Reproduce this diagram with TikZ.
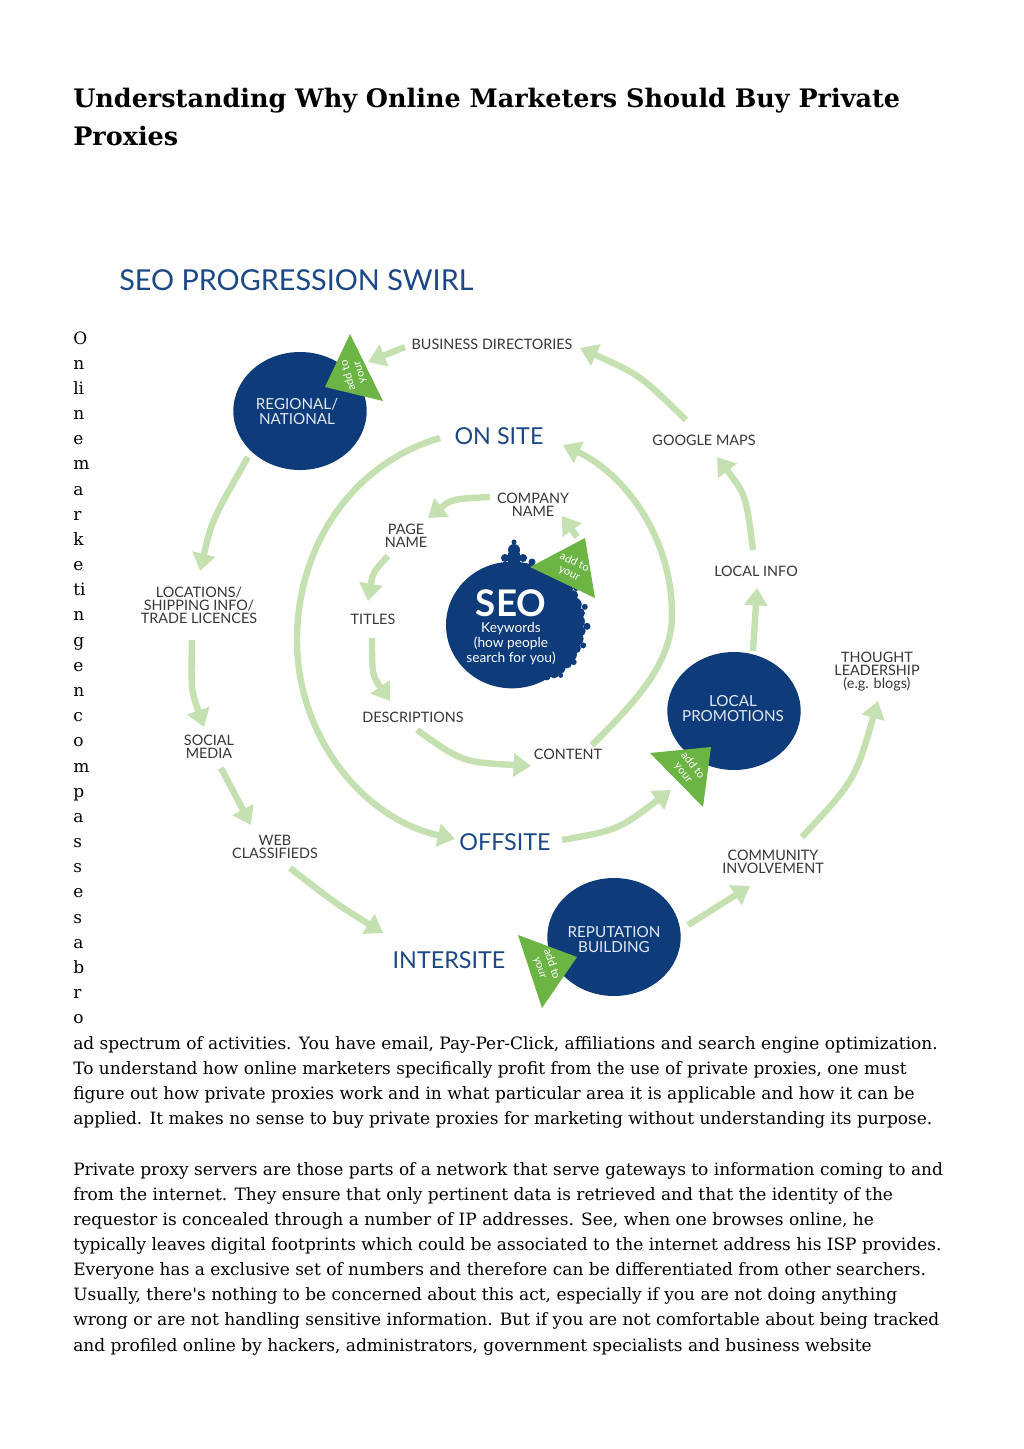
\documentclass[tikz,border=0pt]{standalone}
\usepackage{fontspec}
\setmainfont{DejaVu Serif}
\newfontfamily\labfont{Lato}
\usetikzlibrary{arrows.meta,shapes.geometric}
\definecolor{seoblue}{RGB}{14,60,122}
\definecolor{headblue}{RGB}{28,72,134}
\definecolor{trigreen}{RGB}{108,181,68}
\definecolor{arrgreen}{RGB}{198,225,177}
\definecolor{labgray}{RGB}{55,55,55}
\definecolor{circtext}{RGB}{226,233,243}
\begin{document}
\begin{tikzpicture}[x=0.75pt,y=-0.75pt,
  body/.style={anchor=base west,inner sep=0pt,font=\fontsize{12.75}{15}\selectfont,text=black},
  ttl/.style={anchor=base west,inner sep=0pt,font=\fontsize{19.1}{22}\selectfont\bfseries,text=black},
  lbl/.style={inner sep=0pt,align=center,text=labgray,font=\labfont\fontsize{10.8}{9.8}\selectfont},
  big/.style={inner sep=0pt,text=headblue,font=\labfont\fontsize{17.5}{18}\selectfont},
  circ/.style={ellipse,fill=seoblue,inner sep=0pt,minimum width=100pt,minimum height=88.5pt},
  ctext/.style={inner sep=0pt,align=center,text=circtext,font=\labfont\fontsize{11.4}{11.2}\selectfont},
  tritext/.style={inner sep=0pt,align=center,text=white,font=\labfont\fontsize{8.3}{9}\selectfont},
  arr/.style={draw=arrgreen,line width=4.8pt,-{Triangle[length=13pt,width=17pt]}}]
\useasboundingbox (0,0) rectangle (1024,1449);
\fill[white] (0,0) rectangle (1024,1449);

% ---------- page title ----------
\node[ttl] (h1) at (73,107) {Understanding Why Online Marketers Should Buy Private};
\node[ttl] (h2) at (73,145) {Proxies};

% ---------- vertical letters ----------
\foreach \l [count=\i from 0] in {O,n,li,n,e,m,a,r,k,e,ti,n,g,e,n,c,o,m,p,a,s,s,e,s,a,b,r,o}
  \node[body] (v\i) at (73,{344+25.18*\i}) {\l};

% ---------- body text ----------
\node[body] (b1) at (73,1049) {ad spectrum of activities. You have email, Pay-Per-Click, affiliations and search engine optimization.};
\node[body] (b2) at (73,1074) {To understand how online marketers specifically profit from the use of private proxies, one must};
\node[body] (b3) at (73,1099) {figure out how private proxies work and in what particular area it is applicable and how it can be};
\node[body] (b4) at (73,1124) {applied. It makes no sense to buy private proxies for marketing without understanding its purpose.};
\node[body] (b5) at (73,1175) {Private proxy servers are those parts of a network that serve gateways to information coming to and};
\node[body] (b6) at (73,1200) {from the internet. They ensure that only pertinent data is retrieved and that the identity of the};
\node[body] (b7) at (73,1225) {requestor is concealed through a number of IP addresses. See, when one browses online, he};
\node[body] (b8) at (73,1250) {typically leaves digital footprints which could be associated to the internet address his ISP provides.};
\node[body] (b9) at (73,1275) {Everyone has a exclusive set of numbers and therefore can be differentiated from other searchers.};
\node[body] (b10) at (73,1300) {Usually, there\textquotesingle s nothing to be concerned about this act, especially if you are not doing anything};
\node[body] (b11) at (73,1325) {wrong or are not handling sensitive information. But if you are not comfortable about being tracked};
\node[body] (b12) at (73,1351) {and profiled online by hackers, administrators, government specialists and business website};

% ---------- diagram title ----------
\node[inner sep=0pt,anchor=west,text=headblue,font=\labfont\fontsize{21.6}{22}\selectfont] (swirl) at (119,280) {SEO PROGRESSION SWIRL};

% ---------- circles ----------
\node[circ] (reg) at (300,411) {};
\node[circ] (lp) at (734,711) {};
\node[circ] (rep) at (614,937) {};
\node[circ,minimum width=99pt,minimum height=95pt] (seo) at (512,625) {};
% fractal edge of the SEO circle
\begin{scope}[shift={(512,625)}]
  \fill[seoblue] (-4,-58) rectangle (8,-72);
  \fill[seoblue] (2,-75) circle (6);
  \fill[seoblue] (2,-83) circle (2.5);
  \fill[seoblue] (-7,-67) circle (4);
  \fill[seoblue] (11,-67) circle (4);
  \fill[seoblue] (20,-63) circle (3.5);
  \foreach \a/\d/\r in {-52/64/6,-44/66/5,-34/65/7,-26/68/5,-18/66/7,-10/69/5,-3/66/7,
                        5/69/5,12/66/7,20/68/5,27/65/7,35/67/5,42/64/6,49/64/5,56/62/4}
    \fill[seoblue] (\a:\d) circle (\r);
  \foreach \a/\d/\r in {-30/74/3,-14/75/3,1/75/3.5,16/74/3,31/72/3,46/70/2.5}
    \fill[seoblue] (\a:\d) circle (\r);
\end{scope}

% ---------- green triangles ----------
\fill[trigreen] (350,334) -- (383,401) -- (325,387) -- cycle;
\fill[trigreen] (530,567) -- (585,538) -- (595,598) -- cycle;
\fill[trigreen] (650,753) -- (711,747) -- (703,807) -- cycle;
\fill[trigreen] (518,935) -- (577,957) -- (542,1008) -- cycle;
\node[tritext,rotate=106] (tr1) at (354,374) {add to\\your};
\node[tritext,rotate=-25] (tr2) at (572,568) {add to\\your};
\node[tritext,rotate=-52] (tr3) at (688,769) {add to\\your};
\node[tritext,rotate=-72] (tr4) at (546,966) {add to\\your};

% ---------- circle texts ----------
\node[ctext] (regt) at (297,411) {REGIONAL/\\NATIONAL};
\node[ctext] (lpt) at (733,709) {LOCAL\\PROMOTIONS};
\node[ctext] (rept) at (614,940) {REPUTATION\\BUILDING};
\node[inner sep=0pt,text=white,font=\labfont\bfseries\fontsize{27.5}{27}\selectfont] (seot) at (511,603) {SEO};
\node[ctext,text=white,font=\labfont\fontsize{10.3}{11.2}\selectfont] (kw) at (511,644) {Keywords\\(how people\\search for you)};

% ---------- labels ----------
\node[lbl] (bd) at (492,344) {BUSINESS DIRECTORIES};
\node[lbl] (gm) at (704,440) {GOOGLE MAPS};
\node[lbl] (li) at (756,571) {LOCAL INFO};
\node[lbl] (tl) at (877,672) {THOUGHT\\LEADERSHIP\\(e.g. blogs)};
\node[lbl] (ci) at (773,862) {COMMUNITY\\INVOLVEMENT};
\node[lbl] (cn) at (533,505) {COMPANY\\NAME};
\node[lbl] (pn) at (406,536) {PAGE\\NAME};
\node[lbl] (ti) at (373,619) {TITLES};
\node[lbl] (de) at (413,717) {DESCRIPTIONS};
\node[lbl] (co) at (568,754) {CONTENT};
\node[lbl] (lo) at (199,605) {LOCATIONS/\\SHIPPING INFO/\\TRADE LICENCES};
\node[lbl] (sm) at (209,747) {SOCIAL\\MEDIA};
\node[lbl] (wc) at (275,847) {WEB\\CLASSIFIEDS};
\node[big] (on) at (499,436) {ON SITE};
\node[big] (off) at (505,842) {OFFSITE};
\node[big] (inter) at (449,960) {INTERSITE};

% ---------- connector end points ----------
\coordinate (gm-o) at (686,420);   \coordinate (bd-i) at (580,348);
\coordinate (bd-o) at (405,347);   \coordinate (reg-i) at (368,362);
\coordinate (reg-o) at (248,457);  \coordinate (lo-i) at (200,571);
\coordinate (lo-o) at (192,640);   \coordinate (sm-i) at (204,727);
\coordinate (sm-o) at (221,768);   \coordinate (wc-i) at (251,825);
\coordinate (wc-o) at (290,868);   \coordinate (inter-i) at (383,933);
\coordinate (rep-o) at (688,925);  \coordinate (ci-i) at (750,886);
\coordinate (ci-o) at (802,837);   \coordinate (tl-i) at (878,701);
\coordinate (off-o) at (562,840);  \coordinate (lp-i) at (671,790);
\coordinate (lp-o) at (753,651);   \coordinate (li-i) at (757,588);
\coordinate (li-o) at (753,550);   \coordinate (gm-i) at (717,457);
\coordinate (on-o) at (440,438);   \coordinate (arcmid) at (297,640);  \coordinate (off-i) at (455,839);
\coordinate (co-o) at (592,745);   \coordinate (rmid) at (672,615);    \coordinate (on-i) at (563,445);
\coordinate (cn-o) at (490,497);   \coordinate (pn-i) at (428,518);
\coordinate (pn-o) at (388,556);   \coordinate (ti-i) at (368,601);
\coordinate (ti-o) at (372,638);   \coordinate (de-i) at (390,701);
\coordinate (de-o) at (417,730);   \coordinate (co-i) at (531,766);
\coordinate (seo-o) at (577,537);  \coordinate (cn-i) at (562,516);

% ---------- connectors ----------
\draw[arr] (gm-o) .. controls (640,375) .. (bd-i);
\draw[arr] (bd-o) -- (reg-i);
\draw[arr] (reg-o) .. controls (212,520) .. (lo-i);
\draw[arr] (lo-o) .. controls (191,690) .. (sm-i);
\draw[arr] (sm-o) -- (wc-i);
\draw[arr] (wc-o) .. controls (335,903) .. (inter-i);
\draw[arr] (rep-o) -- (ci-i);
\draw[arr] (ci-o) .. controls (855,780) .. (tl-i);
\draw[arr] (off-o) .. controls (618,830) .. (lp-i);
\draw[arr] (lp-o) .. controls (755,620) .. (li-i);
\draw[arr] (li-o) .. controls (746,495) .. (gm-i);
\draw[arr] (on-o) .. controls (351,464) and (297,547) .. (arcmid)
               .. controls (297,735) and (361,818) .. (off-i);
\draw[arr] (co-o) .. controls (632,705) and (672,665) .. (rmid)
               .. controls (672,535) and (623,473) .. (on-i);
\draw[arr] (cn-o) .. controls (452,499) .. (pn-i);
\draw[arr] (pn-o) .. controls (373,572) .. (ti-i);
\draw[arr] (ti-o) .. controls (372,675) .. (de-i);
\draw[arr] (de-o) .. controls (462,762) .. (co-i);
\draw[arr] (seo-o) -- (cn-i);
\end{tikzpicture}
\end{document}
